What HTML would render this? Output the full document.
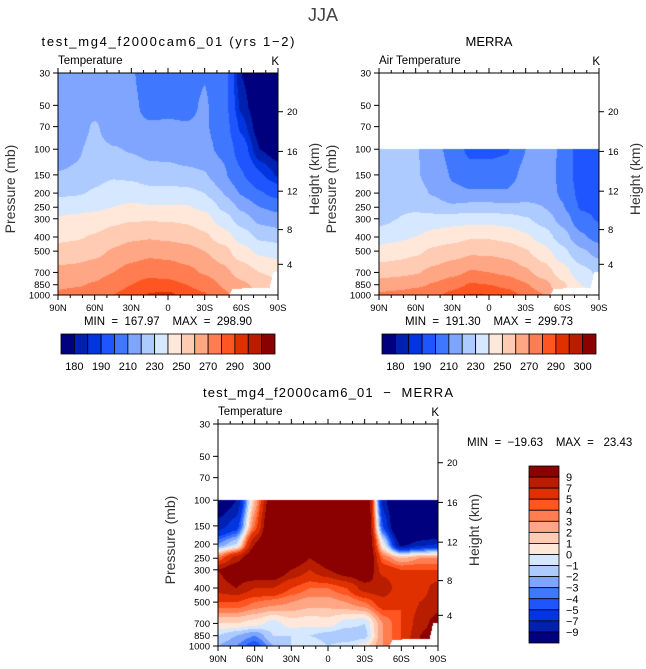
<!DOCTYPE html>
<html><head><meta charset="utf-8">
<style>
html,body{margin:0;padding:0;background:#fff;}
#wrap{position:relative;width:646px;height:669px;overflow:hidden;font-family:"Liberation Sans",sans-serif;}
canvas{position:absolute;}
svg{position:absolute;left:0;top:0;}
text{font-family:"Liberation Sans",sans-serif;fill:#000;white-space:pre;}
</style></head>
<body>
<div id="wrap">
<canvas id="c1" width="220" height="222" style="left:58px;top:73px"></canvas>
<canvas id="c2" width="220" height="222" style="left:379px;top:73px"></canvas>
<canvas id="c3" width="220" height="222" style="left:218px;top:424px"></canvas>
<svg id="svg" width="646" height="669">
<text x="323" y="21" text-anchor="middle" font-size="18" style="fill:#444">JJA</text>
</svg>
</div>
<script>
const lats=[90,75,60,45,30,15,0,-15,-30,-45,-60,-75,-90];
const modelLevels=[30,50,70,100,150,200,250,300,400,500,700,850,1000];
const modelT=[
[216,216,215,214,211,205,203,206,209.5,205,180,172,170],
[215,215,213,213,212,207,208,208,211,205,183,174,171],
[214,213,222,212,212,211,211,210.5,211,206,188,176,173],
[211,218,224,221,219,216,215,213,212,208,195,180,176],
[221,222,227,229,228,225,225,223,221,212,201,191,184],
[228,229,231,234,235,233,233,233,230,220,209,201,196],
[236,237,238,240,242,241,241,241,238,228,218,210,207],
[241,242,244,247,249,249,249,248,244,235,225,217,214],
[248,249,251,255,258,259,258,256,252,245,236,228,226],
[253,254,257,261,265,267,266,264,260,254,244,238,236],
[263,264,266,270,274,277,276,273,269,263,256,250,247],
[268,269,271,276,280,284,283,280,276,269,262,257,252],
[272,274,276,280,284,291,293,285,281,272,266,262,258]];
const merraLevels=[100,150,200,250,300,400,500,700,850,1000];
const merraT=[
[225,224,221,214,206,197,197,199,210,216,208,195,194],
[229,224,221,216,209,205,205,206,213,216,207,195,194],
[229,225,223,219,212,211,211,211,216,217,208,197,196],
[227,228,228,225,222,224,224,223,222,220,211,199,198],
[226,230,233,234,236,236,236,235,231,226,216,203,199],
[236,238,240,244,246,249,249,247,242,235,225,212,206],
[243,245,248,252,255,258,258,256,251,244,233,222,216],
[256,257,259,263,267,271,270,268,262,255,245,234,228],
[264,266,268,271,276,281,280,277,271,264,252,240,235],
[272,273,275,278,283,291,290,285,277,270,255,245,235]];
const diffT=[
[-12,-9,2,12,15,15,15,15,15,-8,-15,-15,-15],
[-8,-6,4,14,15,15,15,15,15,-5,-15,-15,-15],
[-3,-1,9,14,15,15,15,15,15,0,-10,-8,-7],
[4,8,12,13,12,9,11,13,14,4,2,3,3],
[9,11,12,12,9,7,9,11,12,6,5,5,5],
[8,9,7,7,5,4,4,5,8,9,5,6,8],
[5,5,4,3.5,3,2.5,2.5,3,4,6,5,7,8],
[1,1,0.5,-0.5,0.5,0.3,0.5,-0.5,-1,3,5,8,10],
[-1,-2,-3,-1,-1,-1,-1.5,-2,-1.5,3,5,9,11],
[-2,-3,-5,-2,-1,0,-1,-0.5,0.5,3,5,9,11]];
const tempBounds=[180,185,190,200,210,220,230,240,250,260,270,280,290,295,300];
const tempLabels=["180","190","210","230","250","270","290","300"];
const diffBounds=[-9,-7,-5,-4,-3,-2,-1,0,1,2,3,4,5,7,9];
const diffLabels=["9","7","5","4","3","2","1","0","−1","−2","−3","−4","−5","−7","−9"];
const palette=["#00007f","#0020b0","#0035e0","#1f55ff","#4077ff","#7fa5ff","#aecbff","#d5e8ff","#ffe8da","#ffcbb3","#ffa685","#ff7d50","#ff5520","#e03000","#b81d00","#8b0000"];
const surfLat=[-50,-53,-83,-86,-90];
const surfP=[1000,905,895,700,690];
const presTicks=[30,50,70,100,150,200,250,300,400,500,700,850,1000];
const kmTicks=[4,8,12,16,20];
const kmPres=[616,356,194,103.5,55.3];
const latTicks=[90,60,30,0,-30,-60,-90];
const latTickLabels=["90N","60N","30N","0","30S","60S","90S"];

const W=220,H=222,PTOP=30,PBOT=1000,LR=Math.log(PBOT/PTOP);
function yOfP(p){return H*Math.log(p/PTOP)/LR;}
function xOfLat(l){return W*(90-l)/180;}
function surfAt(lat){
  if(lat>surfLat[0])return 1000;
  for(let i=0;i<surfLat.length-1;i++){
    if(lat<=surfLat[i]&&lat>=surfLat[i+1]){const f=(surfLat[i]-lat)/(surfLat[i]-surfLat[i+1]);return surfP[i]+f*(surfP[i+1]-surfP[i]);}
  }
  return surfP[surfP.length-1];
}
function hex(c){return [parseInt(c.substr(1,2),16),parseInt(c.substr(3,2),16),parseInt(c.substr(5,2),16)];}
const rgb=palette.map(hex);
function sm(t){return t*t*(3-2*t)*0.5+t*0.5;}
function render(id,levels,grid,bounds){
  const ctx=document.getElementById(id).getContext('2d');
  const img=ctx.createImageData(W,H);
  for(let py=0;py<H;py++){
    const p=PTOP*Math.exp((py+0.5)/H*LR);
    for(let px=0;px<W;px++){
      const k=(py*W+px)*4;
      img.data[k+3]=255;
      const lat=90-(px+0.5)/W*180;
      if(p<levels[0]-0.01||p>surfAt(lat)){img.data[k]=img.data[k+1]=img.data[k+2]=255;continue;}
      let i=0;while(i<levels.length-2&&p>levels[i+1])i++;
      let f=Math.log(p/levels[i])/Math.log(levels[i+1]/levels[i]);f=sm(Math.max(0,Math.min(1,f)));
      const li=(90-lat)/15;let j=Math.min(Math.floor(li),lats.length-2);const g=sm(li-j);
      const v=(1-f)*((1-g)*grid[i][j]+g*grid[i][j+1])+f*((1-g)*grid[i+1][j]+g*grid[i+1][j+1]);
      let c=0;while(c<bounds.length&&v>=bounds[c])c++;
      const col=rgb[c];
      img.data[k]=col[0];img.data[k+1]=col[1];img.data[k+2]=col[2];
    }
  }
  ctx.putImageData(img,0,0);
}
render('c1',modelLevels,modelT,tempBounds);
render('c2',merraLevels,merraT,tempBounds);
render('c3',merraLevels,diffT,diffBounds);

const NS="http://www.w3.org/2000/svg";
const svg=document.getElementById('svg');
function mk(tag,attrs,parent){const e=document.createElementNS(NS,tag);for(const a in attrs)e.setAttribute(a,attrs[a]);(parent||svg).appendChild(e);return e;}
function txt(x,y,s,size,anchor,parent){const t=mk('text',{x:x,y:y,'font-size':size,'text-anchor':anchor||'start'},parent);t.setAttributeNS("http://www.w3.org/XML/1998/namespace","xml:space","preserve");t.textContent=s;return t;}

function axes(ox,oy,name,title,sub,minmax,titleLen){
  const g=mk('g',{});
  
  
  const box=mk('rect',{x:ox,y:oy,width:W,height:H,fill:'none',stroke:'#000','stroke-width':1},g);
  
  
  const t=txt(ox+W/2,oy-27,title,13,'middle',g);
  if(titleLen){t.setAttribute('textLength',titleLen);}
  
  
  const s=txt(ox,oy-9,sub,11.5,'start',g);
  
  
  const u=txt(ox+W+1,oy-8,'K',11.5,'end',g);
  
  
  presTicks.forEach(p=>{
    const y=oy+yOfP(p);
    mk('line',{x1:ox-5,x2:ox,y1:y,y2:y,stroke:'#000'},g);
    const l=txt(ox-8,y+3.5,String(p),9.5,'end',g);
    
    
  });
  kmTicks.forEach((k,i)=>{
    const y=oy+yOfP(kmPres[i]);
    mk('line',{x1:ox+W,x2:ox+W+5,y1:y,y2:y,stroke:'#000'},g);
    const l=txt(ox+W+9,y+3.5,String(k),9.5,'start',g);
    
    
  });
  for(let l=90;l>=-90;l-=10){
    const x=ox+xOfLat(l);const maj=(l%30===0);
    mk('line',{x1:x,x2:x,y1:oy,y2:oy-(maj?5:3),stroke:'#000'},g);
    mk('line',{x1:x,x2:x,y1:oy+H,y2:oy+H+(maj?5:3),stroke:'#000'},g);
  }
  latTicks.forEach((l,i)=>{
    const lb=txt(ox+xOfLat(l),oy+H+16,latTickLabels[i],9.5,'middle',g);
    
    
  });
  const py=txt(0,0,'Pressure (mb)',14,'middle',g);
  py.setAttribute('transform','translate('+(ox-43)+','+(oy+H/2+5)+') rotate(-90)');
  py.setAttribute('style','fill:#333');
  
  
  const hy=txt(0,0,'Height (km)',14,'middle',g);
  hy.setAttribute('transform','translate('+(ox+W+41)+','+(oy+H/2-5)+') rotate(-90)');
  hy.setAttribute('style','fill:#333');
  
  
  if(minmax){
    const mm=txt(ox+W/2,oy+H+30,minmax,11.5,'middle',g);
    
    
  }
}
axes(58,73,'model','test_mg4_f2000cam6_01 (yrs 1−2)','Temperature','MIN  =  167.97    MAX  =  298.90',253);
axes(379,73,'merra','MERRA','Air Temperature','MIN  =  191.30    MAX  =  299.73',null);
axes(218,424,'difference','test_mg4_f2000cam6_01  −  MERRA','Temperature',null,250);

function hbar(x0,y0,w,h,name){
  const g=mk('g',{});
  
  
  const bw=w/palette.length;
  palette.forEach((c,i)=>{
    const r=mk('rect',{x:x0+i*bw,y:y0,width:bw,height:h,fill:c,stroke:'#000','stroke-width':0.8},g);
    
    
  });
  tempLabels.forEach((s,i)=>{
    const l=txt(x0+(2*i+1)*bw,y0+h+16,s,11,'middle',g);
    
    
  });
}
hbar(61,334,214,20,'model-colorbar');
hbar(382,334,214,20,'merra-colorbar');

(function(){
  const g=mk('g',{});
  
  
  const x0=529,y0=466,w=30,h=177,bh=h/palette.length;
  for(let i=0;i<palette.length;i++){
    const r=mk('rect',{x:x0,y:y0+i*bh,width:w,height:bh,fill:palette[palette.length-1-i],stroke:'#000','stroke-width':0.8},g);
    
    
  }
  diffLabels.forEach((s,i)=>{
    const l=txt(x0+37,y0+(i+1)*bh+4,s,11,'start',g);
    
    
  });
  const mm=txt(467,446,'MIN  =  −19.63    MAX  =   23.43',11.5,'start',g);
  
  
})();
</script>
</body></html>
